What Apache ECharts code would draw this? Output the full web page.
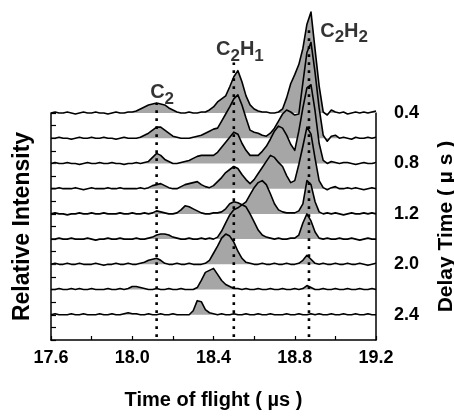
<!DOCTYPE html>
<html><head><meta charset="utf-8">
<script src="https://cdn.jsdelivr.net/npm/echarts@6/dist/echarts.min.js"></script>
<style>html,body{margin:0;padding:0;background:#fff}#c{width:454px;height:417px}</style>
</head><body><div id="c"></div>
<script>
// Time of flight (µs) sample positions
const times = [17.60,17.62,17.64,17.66,17.68,17.70,17.72,17.74,17.76,17.78,
17.80,17.82,17.84,17.86,17.88,17.90,17.92,17.94,17.96,17.98,
18.00,18.02,18.04,18.06,18.08,18.10,18.12,18.14,18.16,18.18,
18.20,18.22,18.24,18.26,18.28,18.30,18.32,18.34,18.36,18.38,
18.40,18.42,18.44,18.46,18.48,18.50,18.52,18.54,18.56,18.58,
18.60,18.62,18.64,18.66,18.68,18.70,18.72,18.74,18.76,18.78,
18.80,18.82,18.84,18.86,18.88,18.90,18.92,18.94,18.96,18.98,
19.00,19.02,19.04,19.06,19.08,19.10,19.12,19.14,19.16,19.18,19.20];

// Relative intensity of each trace (top trace first)
const trace1 = [0,1,0,0,1,0,-1,0,1,0, 0,1,0,0,-1,0,1,0,0,1,
1,2,4,6,8,9,10,9,8,5, 3,1,0,0,1,0,0,1,1,3,
6,11,14,17,26,36,42,31,17,8, 4,2,1,1,0,0,1,4,15,29,
38,48,64,88,100,63,27,1,-2,3, 1,0,1,-1,0,1,0,1,0,1,2];
const trace2 = [0,0,1,0,0,-1,0,1,0,0, 1,0,0,1,0,0,-1,0,1,0,
0,0,1,3,5,8,11,11,8,5, 2,1,0,0,0,1,2,3,5,7,
9,10,17,24,31,39,43,33,20,8, 6,5,3,2,5,10,17,24,28,26,
23,24,55,85,95,65,30,3,-3,2, 3,0,1,0,-1,1,0,0,1,0,1];
const trace3 = [0,1,0,0,1,0,0,-1,0,1, 0,0,1,0,0,1,0,0,-1,0,
0,1,0,1,2,6,10,8,4,2, 0,0,1,2,3,5,7,8,8,8,
8,11,16,21,26,31,29,20,13,8, 8,8,12,17,24,32,37,35,28,19,
13,32,55,75,78,52,20,3,0,2, 1,0,1,1,0,-1,0,1,0,0,1];
const trace4 = [0,0,1,0,0,0,1,0,-1,0, 1,0,0,0,1,0,0,1,0,0,
0,0,1,0,1,3,4,5,3,1, 0,0,2,4,5,6,7,4,2,1,
3,7,11,16,19,22,20,14,9,5, 9,15,21,27,33,31,26,22,13,6,
8,24,42,61,54,30,8,1,-1,1, 2,0,0,1,0,1,0,-1,0,1,0];
const trace5 = [0,1,0,0,-1,0,0,1,0,0, 1,0,0,1,0,0,0,1,0,0,
1,0,0,1,0,1,3,2,1,0, 0,1,4,8,7,5,3,1,0,0,
1,1,2,5,10,12,11,9,12,19, 26,31,33,29,20,10,4,2,1,1,
1,3,10,33,29,12,2,0,1,0, 1,0,-1,0,1,0,0,1,0,1,0];
const trace6 = [0,0,1,0,0,1,0,0,0,1, 0,-1,0,0,1,0,0,1,0,0,
0,1,0,0,1,2,4,5,5,4, 2,1,0,0,1,0,0,1,0,1,
0,2,8,16,24,29,31,34,32,25, 17,9,4,2,1,0,1,0,0,1,
1,4,16,25,18,7,1,0,1,0, 0,1,0,0,1,0,-1,0,1,0,0];
const trace7 = [0,1,0,0,1,0,0,1,0,0, 0,1,0,-1,0,0,1,0,0,1,
0,0,1,2,4,5,6,4,1,0, 0,1,0,0,1,0,0,0,1,4,
11,18,26,30,28,22,13,6,2,1, 0,0,1,0,0,1,0,0,1,0,
0,1,4,9,5,1,0,1,0,0, 1,0,0,1,0,0,1,0,-1,0,1];
const trace8 = [0,0,1,0,0,1,0,1,0,0, 1,0,0,0,1,0,0,1,0,1,
3,3,2,1,0,0,1,0,0,1, 0,0,1,0,0,0,2,9,17,19,
21,15,9,5,3,1,1,0,1,0, 0,1,0,0,1,0,0,1,0,0,
1,0,1,4,2,0,0,1,0,0, 1,0,0,1,0,0,1,0,0,1,0];
const trace9 = [0,1,0,0,0,1,0,0,1,0, 0,0,1,0,0,1,0,0,1,2,
1,1,0,0,1,0,0,1,0,0, 1,0,0,0,0,4,14,13,5,2,
1,0,1,0,0,1,0,0,1,0, 0,1,0,0,1,0,0,0,1,0,
0,1,0,0,1,0,1,0,0,1, 0,0,1,0,0,1,0,0,1,0,0];

// Delay time labels (µs), one per trace, top first
const delayLabels = ['0.4','','0.8','','1.2','','2.0','','2.4'];
// x-axis tick labels
const xTickLabels = ['17.6','18.0','18.4','18.8','19.2'];
// peak assignments
const peakTimes = [18.12, 18.50, 18.87];
const peakNames = [['C','2'], ['C','2','H','1'], ['C','2','H','2']];

const traces = [trace1,trace2,trace3,trace4,trace5,trace6,trace7,trace8,trace9];
const SPACING = 25;
const TOP = SPACING * traces.length;
const FONT = 'Liberation Sans, Arial, Helvetica, sans-serif';

const series = [];
traces.forEach((tr, k) => {
  const offset = TOP - SPACING * k;
  series.push({
    type: 'custom', silent: true, clip: false, z: 2 + k,
    data: [0],
    renderItem: (params, api) => {
      const pts = times.map((t, i) => api.coord([t, offset + tr[i]]));
      const poly = pts.concat([api.coord([times[times.length - 1], offset]), api.coord([times[0], offset])]);
      return {
        type: 'group',
        children: [
          { type: 'polygon', shape: { points: poly }, style: { fill: '#a6a6a6', stroke: null } },
          { type: 'polyline', shape: { points: pts }, style: { fill: null, stroke: '#000', lineWidth: 1.6, lineJoin: 'round' } }
        ]
      };
    }
  });
});

// dotted reference lines at peak positions
const lineTops = [235, 275, 312];
peakTimes.forEach((t, j) => {
  series.push({
    type: 'line', silent: true, clip: false, symbol: 'none', z: 30,
    lineStyle: { color: '#000', width: 2.6, type: [2.6, 5.4] },
    data: [[t, 3], [t, lineTops[j]]]
  });
});

// peak labels with subscripts
const labelPos = [[18.147, 245], [18.53, 288], [19.043, 306]];
const labelText = peakNames.map(p => p.map((c, i) => (i % 2 ? '{s|' : '{m|') + c + '}').join(''));
series.push({
  type: 'scatter', silent: true, clip: false, symbolSize: 0, z: 40,
  data: labelPos.map((p, j) => ({ value: p, name: labelText[j] })),
  label: {
    show: true, position: 'inside', formatter: p => p.name,
    rich: {
      m: { fontFamily: FONT, fontWeight: 'bold', fontSize: 20, lineHeight: 20, color: '#000', verticalAlign: 'top' },
      s: { fontFamily: FONT, fontWeight: 'bold', fontSize: 17, lineHeight: 18, color: '#000', verticalAlign: 'top', padding: [8, 0, 0, 0] }
    }
  }
});

const chart = echarts.init(document.getElementById('c'));
chart.setOption({
  animation: false,
  backgroundColor: '#fff',
  grid: { left: 51, right: 78, top: 113, bottom: 77, containLabel: false, outerBoundsMode: 'none' },
  xAxis: {
    type: 'value', min: 17.6, max: 19.2, interval: 0.2,
    name: 'Time of flight ( µs )', nameLocation: 'middle', nameGap: 50,
    nameTextStyle: { fontFamily: FONT, fontWeight: 'bold', fontSize: 20, color: '#000' },
    axisLine: { show: true, lineStyle: { color: '#000', width: 1.5 } },
    axisTick: { show: true, inside: true, length: 4, lineStyle: { color: '#000', width: 1.2 } },
    axisLabel: {
      margin: 9, fontFamily: FONT, fontWeight: 'bold', fontSize: 18, color: '#000',
      formatter: v => { const s = v.toFixed(1); return xTickLabels.includes(s) ? s : ''; }
    },
    splitLine: { show: false }
  },
  yAxis: [{
    type: 'value', min: 0, max: TOP, interval: SPACING / 2, position: 'left',
    name: 'Relative Intensity', nameLocation: 'middle', nameGap: 17, nameRotate: 90,
    nameTextStyle: { fontFamily: FONT, fontWeight: 'bold', fontSize: 23, color: '#000' },
    axisLine: { show: true, lineStyle: { color: '#000', width: 1.5 } },
    axisTick: { show: true, inside: true, length: 5, lineStyle: { color: '#000', width: 1.2 } },
    axisLabel: { show: false },
    splitLine: { show: false }
  }, {
    type: 'value', min: 0, max: TOP, interval: SPACING, position: 'right',
    name: 'Delay Time ( µ s )', nameLocation: 'middle', nameGap: 60, nameRotate: 90,
    nameTextStyle: { fontFamily: FONT, fontWeight: 'bold', fontSize: 21, color: '#000' },
    axisLine: { show: true, lineStyle: { color: '#000', width: 1.5 } },
    axisTick: { show: false },
    axisLabel: {
      margin: 18, fontFamily: FONT, fontWeight: 'bold', fontSize: 18, color: '#000',
      formatter: v => { const k = Math.round((TOP - v) / SPACING); return delayLabels[k] || ''; }
    },
    splitLine: { show: false }
  }],
  series: series
});
</script>
</body></html>
